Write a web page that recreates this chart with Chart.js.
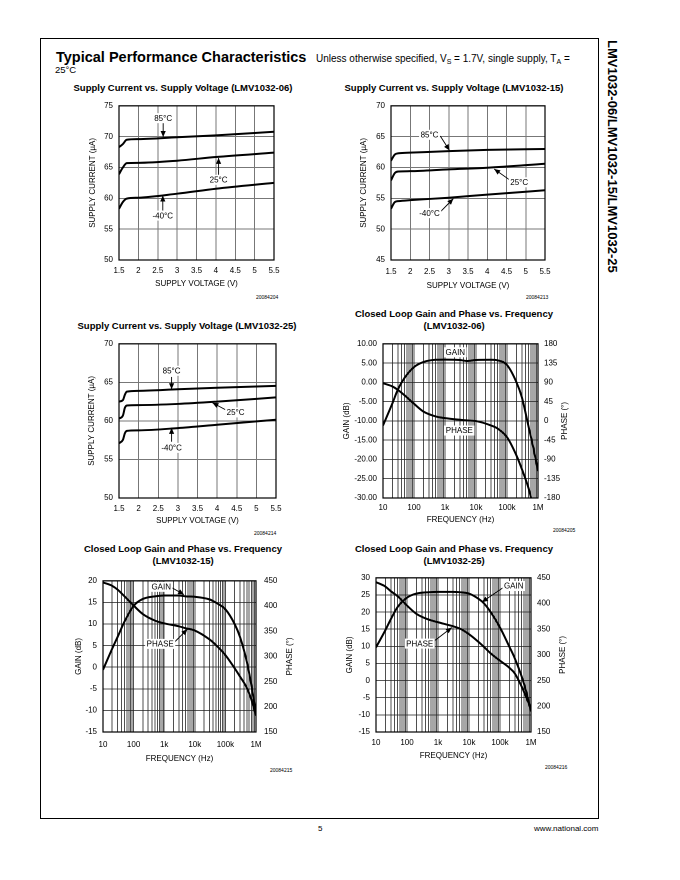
<!DOCTYPE html>
<html><head><meta charset="utf-8">
<script src="https://cdn.jsdelivr.net/npm/chart.js@4.4.1/dist/chart.umd.min.js"></script>
<style>
html,body{margin:0;padding:0;background:#fff;}
body{width:680px;height:880px;position:relative;overflow:hidden;font-family:"Liberation Sans",Arial,Helvetica,sans-serif;color:#000;}
.t{position:absolute;white-space:nowrap;line-height:1;}
#frame{position:absolute;left:40px;top:38px;width:559px;height:781px;border:1px solid #000;box-sizing:border-box;}
sub{font-size:7px;vertical-align:-2px;line-height:0;}
</style>
</head><body>
<div id="frame"></div>
<script>
// ---------- DATA ----------
const VOLT_TICKS = [1.5, 2, 2.5, 3, 3.5, 4, 4.5, 5, 5.5];
const FREQ_MAJOR = [10, 100, 1000, 10000, 100000, 1000000];
const FREQ_LABELS = ['10', '100', '1k', '10k', '100k', '1M'];

// Supply current vs supply voltage (µA)
const voltA = [1.5, 1.6, 1.7, 2.0, 3.0, 4.0, 5.5];
const c1_85 = [68.3, 68.8, 69.5, 69.6, 69.9, 70.2, 70.8];
const c1_25 = [63.9, 65.0, 65.7, 65.75, 66.1, 66.7, 67.4];
const c1_m40 = [58.3, 59.4, 59.95, 60.1, 60.75, 61.55, 62.5];

const c2_85 = [61.1, 62.1, 62.3, 62.4, 62.65, 62.85, 63.0];
const c2_25 = [57.9, 59.1, 59.35, 59.4, 59.7, 59.95, 60.6];
const c2_m40 = [53.3, 54.4, 54.55, 54.7, 55.1, 55.6, 56.3];

const voltC = [1.5, 1.6, 1.65, 1.7, 2.0, 3.0, 4.0, 5.5];
const c3_85 = [62.5, 62.7, 63.4, 63.8, 63.9, 64.1, 64.3, 64.55];
const c3_25 = [60.3, 60.7, 61.7, 62.0, 62.05, 62.2, 62.5, 63.05];
const c3_m40 = [57.1, 57.55, 58.4, 58.7, 58.77, 59.07, 59.5, 60.15];

// Closed loop gain (dB) / phase (deg) vs frequency (Hz)
const freq = [10, 20, 30, 50, 100, 200, 500, 1e3, 3e3, 5e3, 1e4, 3e4, 5e4, 1e5, 2e5, 3e5, 5e5, 7e5, 1e6];
const c4_gain = [-11.2, -5.5, -1.9, 1.2, 3.95, 5.25, 5.85, 5.9, 5.8, 5.55, 5.8, 5.85, 5.7, 4.5, 0.1, -3.8, -11.6, -16.8, -23.0];
const freqP4 = [10, 20, 30, 50, 100, 200, 500, 1e3, 3e3, 5e3, 1e4, 3e4, 5e4, 1e5, 2e5, 3e5, 5e5, 6e5];
const c4_phase = [88, 80.5, 72.7, 59.5, 40, 22, 10.5, 6.6, 2.7, 1.2, -0.4, -10.5, -18, -38, -80, -112, -158, -180];

const c5_gain = [-0.6, 4.3, 7.0, 10.5, 14.2, 15.8, 16.4, 16.6, 16.6, 16.4, 16.3, 15.7, 14.9, 13.4, 10.0, 7.0, 1.3, -4.0, -10.8];
const c5_phase = [446.8, 440, 432.5, 419.5, 401, 384, 371, 365.6, 359.7, 356, 351.3, 333.8, 322, 302.6, 276.6, 260, 237.7, 215, 182.5];

const freq6 = [10, 20, 30, 50, 100, 200, 500, 1e3, 3e3, 5e3, 1e4, 2e4, 3e4, 5e4, 1e5, 2e5, 3e5, 5e5, 7e5, 1e6];
const c6_gain = [9.7, 14.7, 17.9, 21.5, 24.2, 25.4, 25.8, 25.9, 25.9, 25.8, 25.4, 23.9, 22.6, 20.0, 15.5, 9.9, 6.5, 1.2, -3.2, -9.0];
const c6_phase = [441.6, 433, 424, 414, 396, 380, 368.7, 363.5, 355.8, 351.3, 340.3, 325.5, 315.8, 303, 288.7, 275, 264, 238.4, 217.7, 194.5];

// ---------- PAGE TEXT ----------
const FONT = '"Liberation Sans", Arial, Helvetica, sans-serif';
function txt(html, x, y, size, opt) {
  opt = opt || {};
  const d = document.createElement('div');
  d.className = 't';
  d.innerHTML = html;
  d.style.fontSize = size + 'px';
  if (opt.bold) d.style.fontWeight = 'bold';
  d.style.top = (y - size * 0.5) + 'px';
  document.body.appendChild(d);
  const w = d.offsetWidth;
  const a = opt.align || 'left';
  d.style.left = (a === 'left' ? x : a === 'center' ? x - w / 2 : x - w) + 'px';
  return d;
}
txt('Typical Performance Characteristics', 56, 57, 14.5, {bold: true});
txt('Unless otherwise specified, V<sub>S</sub> = 1.7V, single supply, T<sub>A</sub> =', 316, 59, 10);
txt('25°C', 55, 70, 9.5);
txt('5', 320, 829, 8, {align: 'center'});
txt('www.national.com', 598, 829, 8, {align: 'right'});
(function () {
  const d = document.createElement('div');
  d.className = 't';
  d.textContent = 'LMV1032-06/LMV1032-15/LMV1032-25';
  d.style.fontSize = '13px';
  d.style.fontWeight = 'bold';
  d.style.left = '619px';
  d.style.top = '40px';
  d.style.transformOrigin = '0 0';
  d.style.transform = 'rotate(90deg)';
  document.body.appendChild(d);
})();

const T1 = 'Closed Loop Gain and Phase vs. Frequency';
txt('Supply Current vs. Supply Voltage (LMV1032-06)', 183, 88, 9.5, {bold: true, align: 'center'});
txt('Supply Current vs. Supply Voltage (LMV1032-15)', 454, 88, 9.5, {bold: true, align: 'center'});
txt('Supply Current vs. Supply Voltage (LMV1032-25)', 187, 326, 9.5, {bold: true, align: 'center'});
txt(T1, 454, 314, 9.5, {bold: true, align: 'center'});
txt('(LMV1032-06)', 454, 326, 9.5, {bold: true, align: 'center'});
txt(T1, 183, 549, 9.5, {bold: true, align: 'center'});
txt('(LMV1032-15)', 183, 561, 9.5, {bold: true, align: 'center'});
txt(T1, 454, 549, 9.5, {bold: true, align: 'center'});
txt('(LMV1032-25)', 454, 561, 9.5, {bold: true, align: 'center'});
txt('20084204', 278, 297, 5, {align: 'right'});
txt('20084213', 548, 297, 5, {align: 'right'});
txt('20084214', 276, 533, 5, {align: 'right'});
txt('20084205', 575, 530, 5, {align: 'right'});
txt('20084215', 292, 770, 5, {align: 'right'});
txt('20084216', 567, 767, 5, {align: 'right'});

// ---------- CHART HELPERS ----------
const decor = {
  id: 'decor',
  afterDraw(chart, args, o) {
    const {ctx, chartArea: a} = chart;
    const xs = chart.scales.x, ys = chart.scales.y;
    ctx.save();
    ctx.strokeStyle = '#000';
    ctx.lineWidth = 1.2;
    ctx.strokeRect(a.left, a.top, a.right - a.left, a.bottom - a.top);
    ctx.font = '8px ' + FONT;
    (o.notes || []).forEach(n => {
      if (n.from) {
        const x1 = xs.getPixelForValue(n.from[0]), y1 = ys.getPixelForValue(n.from[1]);
        const x2 = xs.getPixelForValue(n.to[0]), y2 = ys.getPixelForValue(n.to[1]);
        ctx.strokeStyle = '#000'; ctx.lineWidth = 0.9;
        ctx.beginPath(); ctx.moveTo(x1, y1); ctx.lineTo(x2, y2); ctx.stroke();
        const ang = Math.atan2(y2 - y1, x2 - x1), L = 6, W = 2.6;
        ctx.fillStyle = '#000';
        ctx.beginPath();
        ctx.moveTo(x2, y2);
        ctx.lineTo(x2 - L * Math.cos(ang) + W * Math.sin(ang), y2 - L * Math.sin(ang) - W * Math.cos(ang));
        ctx.lineTo(x2 - L * Math.cos(ang) - W * Math.sin(ang), y2 - L * Math.sin(ang) + W * Math.cos(ang));
        ctx.closePath(); ctx.fill();
      }
    });
    (o.notes || []).forEach(n => {
      const tx = xs.getPixelForValue(n.x), ty = ys.getPixelForValue(n.y);
      const w = ctx.measureText(n.t).width;
      ctx.fillStyle = '#fff';
      ctx.fillRect(tx - w / 2 - 1.5, ty - 5, w + 3, 10);
      ctx.fillStyle = '#000';
      ctx.textAlign = 'center'; ctx.textBaseline = 'middle';
      ctx.fillText(n.t, tx, ty + 0.5);
    });
    if (o.rightTitle) {
      ctx.translate(o.rightTitleX, (a.top + a.bottom) / 2);
      ctx.rotate(-Math.PI / 2);
      ctx.fillStyle = '#000';
      ctx.textAlign = 'center'; ctx.textBaseline = 'middle';
      ctx.fillText(o.rightTitle, 0, 0);
    }
    ctx.restore();
  }
};

function mkChart(P, c) {
  const lh = 9.6;
  const leftW = P.l - (c.yTitleX - 6);
  const rightW = c.y2TitleX ? (c.y2TitleX + 7 - P.r) : 20;
  const topPad = 10;
  const botH = c.xTitleY + 7 - P.b;
  const cx = P.l - leftW, cy = P.t - topPad;
  const w = leftW + (P.r - P.l) + rightW, h = topPad + (P.b - P.t) + botH;
  const cv = document.createElement('canvas');
  Object.assign(cv.style, {position: 'absolute', left: cx + 'px', top: cy + 'px', width: w + 'px', height: h + 'px'});
  cv.width = w; cv.height = h;
  document.body.appendChild(cv);
  const font = {size: 8, family: FONT};
  const log = c.log;
  const scales = {
    x: {
      type: log ? 'logarithmic' : 'linear',
      min: log ? 10 : 1.5, max: log ? 1e6 : 5.5,
      afterFit: s => { s.height = botH; },
      afterBuildTicks: s => {
        if (log) {
          const t = [];
          FREQ_MAJOR.forEach((m, i) => {
            if (i === FREQ_MAJOR.length - 1) { t.push({value: m}); return; }
            for (let k = 1; k <= 9; k++) t.push({value: m * k});
          });
          s.ticks = t;
        } else {
          s.ticks = VOLT_TICKS.map(v => ({value: v}));
        }
      },
      ticks: {
        autoSkip: false, maxRotation: 0, color: '#000', font,
        padding: c.xTickY - P.b - lh / 2,
        callback: v => {
          if (!log) return String(v);
          const i = FREQ_MAJOR.findIndex(m => Math.abs(m - v) < 1e-6 * m);
          return i >= 0 ? FREQ_LABELS[i] : '';
        }
      },
      grid: {color: log ? '#222' : '#777', lineWidth: log ? 0.8 : 1, drawTicks: false},
      border: {display: false},
      title: {display: true, text: log ? 'FREQUENCY (Hz)' : 'SUPPLY VOLTAGE (V)', color: '#000', font, padding: {top: 0, bottom: 7 - lh / 2}}
    },
    y: {
      type: 'linear', position: 'left',
      min: c.ymin, max: c.ymax,
      afterFit: s => { s.width = leftW; },
      ticks: {stepSize: 5, color: '#000', font, padding: 6, callback: c.yFmt || (v => String(v))},
      grid: {color: log ? '#222' : '#777', lineWidth: log ? 0.8 : 1, drawTicks: false},
      border: {display: false},
      title: {display: true, text: log ? 'GAIN (dB)' : 'SUPPLY CURRENT (µA)', color: '#000', font, padding: {top: 6 - lh / 2, bottom: 0}}
    }
  };
  if (c.y2TitleX) {
    scales.y2 = {
      type: 'linear', position: 'right',
      min: c.y2min, max: c.y2max,
      afterFit: s => { s.width = rightW; },
      ticks: {stepSize: c.y2step, color: '#000', font, padding: c.y2Pad},
      grid: {display: false, drawTicks: false},
      border: {display: false}
    };
  }
  const datasets = c.series.map(s => ({
    data: s.x.map((xv, i) => ({x: xv, y: s.y[i]})),
    yAxisID: s.axis || 'y',
    borderColor: '#000', borderWidth: 2, pointRadius: 0, fill: false,
    cubicInterpolationMode: 'monotone'
  }));
  return new Chart(cv, {
    type: 'line',
    data: {datasets},
    options: {
      responsive: false, animation: false, devicePixelRatio: 2,
      layout: {padding: {left: 0, top: topPad, right: c.y2TitleX ? 0 : rightW, bottom: 0}},
      plugins: {
        legend: {display: false}, tooltip: {enabled: false},
        decor: {notes: c.notes, rightTitle: c.y2TitleX ? 'PHASE (°)' : null, rightTitleX: c.y2TitleX - cx}
      },
      scales
    },
    plugins: [decor]
  });
}

// ---------- CHARTS ----------
mkChart({l: 119, t: 105, r: 274, b: 260}, {
  yTitleX: 93, xTickY: 271, xTitleY: 284, ymin: 50, ymax: 75,
  series: [{x: voltA, y: c1_85}, {x: voltA, y: c1_25}, {x: voltA, y: c1_m40}],
  notes: [
    {t: '85°C', x: 2.64, y: 73.0, from: [2.64, 72.2], to: [2.64, 69.95]},
    {t: '25°C', x: 4.07, y: 63.0, from: [4.07, 63.8], to: [4.07, 66.55]},
    {t: '-40°C', x: 2.63, y: 57.2, from: [2.63, 58.0], to: [2.63, 60.45]}
  ]
});
mkChart({l: 391, t: 105, r: 545, b: 260}, {
  yTitleX: 364, xTickY: 272, xTitleY: 286, ymin: 45, ymax: 70,
  series: [{x: voltA, y: c2_85}, {x: voltA, y: c2_25}, {x: voltA, y: c2_m40}],
  notes: [
    {t: '85°C', x: 2.5, y: 65.3, from: [2.78, 65.1], to: [3.02, 62.75]},
    {t: '25°C', x: 4.83, y: 57.6, from: [4.6, 57.9], to: [4.18, 59.75]},
    {t: '-40°C', x: 2.5, y: 52.6, from: [2.78, 52.8], to: [3.12, 54.95]}
  ]
});
mkChart({l: 119, t: 343, r: 276, b: 498}, {
  yTitleX: 92, xTickY: 509, xTitleY: 521, ymin: 50, ymax: 70,
  series: [{x: voltC, y: c3_85}, {x: voltC, y: c3_25}, {x: voltC, y: c3_m40}],
  notes: [
    {t: '85°C', x: 2.84, y: 66.5, from: [2.84, 65.7], to: [2.84, 64.1]},
    {t: '25°C', x: 4.47, y: 61.1, from: [4.25, 61.35], to: [3.88, 62.35]},
    {t: '-40°C', x: 2.84, y: 56.5, from: [2.84, 57.3], to: [2.84, 59.1]}
  ]
});
mkChart({l: 383, t: 343, r: 538, b: 498}, {
  log: true, yTitleX: 347, y2TitleX: 565, y2Pad: 6, xTickY: 508, xTitleY: 520,
  ymin: -30, ymax: 10, yFmt: v => v.toFixed(2), y2min: -180, y2max: 180, y2step: 45,
  series: [{x: freq, y: c4_gain}, {x: freqP4, y: c4_phase, axis: 'y2'}],
  notes: [
    {t: 'GAIN', x: 2150, y: 7.8},
    {t: 'PHASE', x: 2900, y: -12.5}
  ]
});
mkChart({l: 103, t: 578, r: 256, b: 732}, {
  log: true, yTitleX: 79, y2TitleX: 290, y2Pad: 8, xTickY: 745, xTitleY: 759,
  ymin: -15, ymax: 20, y2min: 150, y2max: 450, y2step: 50,
  series: [{x: freq, y: c5_gain}, {x: freq, y: c5_phase, axis: 'y2'}],
  notes: [
    {t: 'GAIN', x: 800, y: 18.6, from: [1600, 18.6], to: [4450, 16.8]},
    {t: 'PHASE', x: 740, y: 5.4, from: [1900, 5.4], to: [5750, 8.8]}
  ]
});
mkChart({l: 376, t: 577, r: 531, b: 732}, {
  log: true, yTitleX: 350, y2TitleX: 563, y2Pad: 6, xTickY: 743, xTitleY: 756,
  ymin: -15, ymax: 30, y2min: 150, y2max: 450, y2step: 50,
  series: [{x: freq6, y: c6_gain}, {x: freq6, y: c6_phase, axis: 'y2'}],
  notes: [
    {t: 'GAIN', x: 277000, y: 27.6, from: [135000, 27.3], to: [26000, 22.9]},
    {t: 'PHASE', x: 257, y: 10.8, from: [720, 11.4], to: [2800, 15.5]}
  ]
});
</script>
</body></html>
